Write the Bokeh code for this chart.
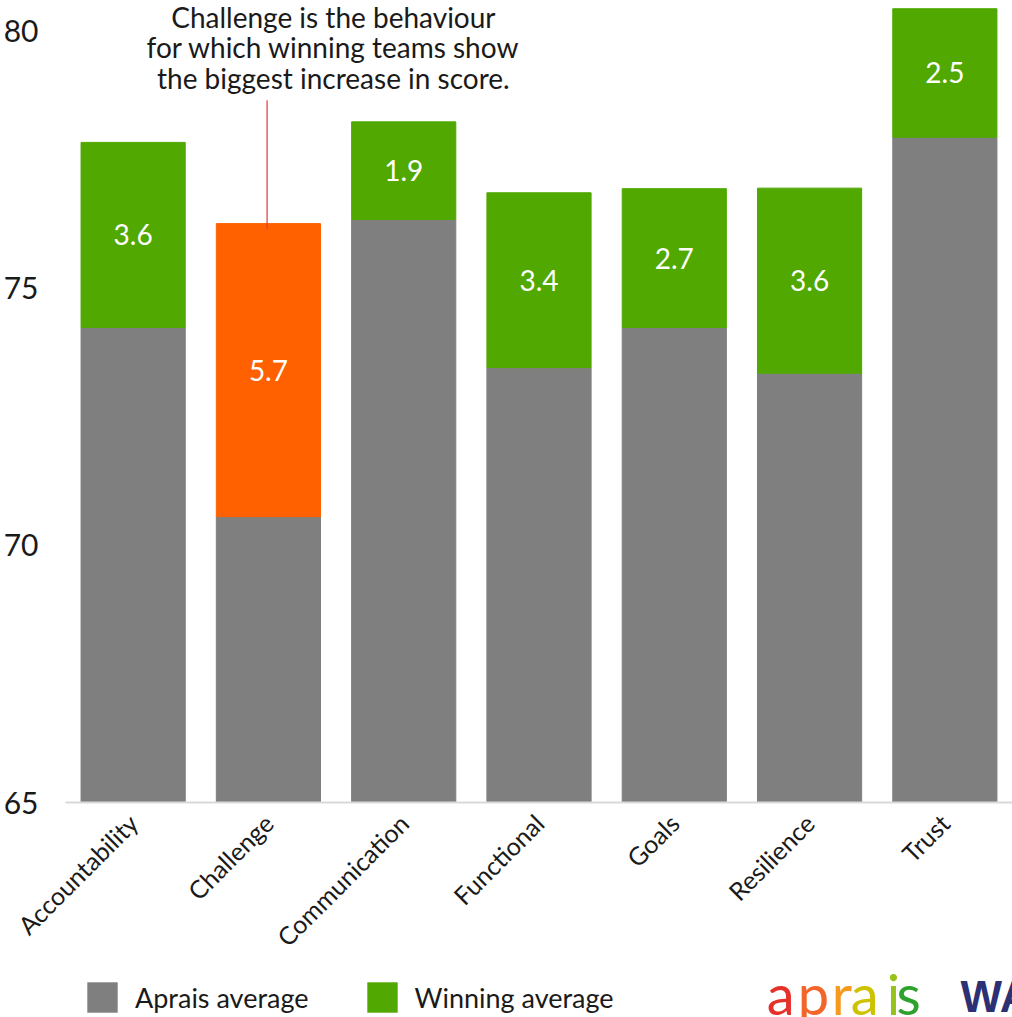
import math
from bokeh.plotting import figure
from bokeh.layouts import column
from bokeh.models import (FactorRange, Range1d, ColumnDataSource, Legend, LegendItem,
                          Label, FixedTicker)
from bokeh.core.properties import value
from bokeh.embed import file_html
from bokeh.resources import INLINE

# ---- data ----
categories = ["Accountability", "Challenge", "Communication", "Functional",
              "Goals", "Resilience", "Trust"]
aprais_average = [74.24, 70.56, 76.34, 73.46, 74.24, 73.35, 77.94]
increase = [3.6, 5.7, 1.9, 3.4, 2.7, 3.6, 2.5]
highlight = "Challenge"
y_ticks = [65, 70, 75, 80]
annotation_lines = ["Challenge is the behaviour",
                    "for which winning teams show",
                    "the biggest increase in score."]
series_names = ["Aprais average", "Winning average"]

GRAY = "#7f7f7f"
GREEN = "#50a800"
ORANGE = "#ff6100"
TEXT = "#1a1a1a"
FONT = "Lato"

winning = [a + d for a, d in zip(aprais_average, increase)]
mid = [(a + w) / 2 for a, w in zip(aprais_average, winning)]
colors = [ORANGE if c == highlight else GREEN for c in categories]
labels = [f"{d:.1f}" for d in increase]

src = ColumnDataSource(dict(cat=categories, apr=aprais_average, win=winning,
                            mid=mid, col=colors, lab=labels))

p = figure(x_range=FactorRange(*categories), y_range=Range1d(65, 80.6),
           width=1012, height=967, output_backend="svg", toolbar_location=None,
           min_border_left=64, min_border_right=0, min_border_top=0,
           min_border_bottom=165)
p.outline_line_color = None
p.grid.visible = False
p.background_fill_color = "white"
p.border_fill_color = "white"

r1 = p.vbar(x="cat", bottom=65, top="apr", width=0.77, color=GRAY, source=src)
r2 = p.vbar(x="cat", bottom="apr", top="win", width=0.77, color="col", source=src)

p.text(x="cat", y="mid", text="lab", source=src, text_color="white",
       text_font=value(FONT), text_font_size="28px", text_align="center",
       text_baseline="middle")

# axes
p.yaxis.ticker = FixedTicker(ticks=y_ticks)
p.yaxis.axis_line_color = None
p.yaxis.major_tick_line_color = None
p.yaxis.minor_tick_line_color = None
p.yaxis.major_label_text_font = FONT
p.yaxis.major_label_text_font_size = "30px"
p.yaxis.major_label_text_color = TEXT
p.yaxis.major_label_standoff = 21

p.xaxis.axis_line_color = "#d9d9d9"
p.xaxis.axis_line_width = 2
p.xaxis.major_tick_line_color = None
p.xaxis.minor_tick_line_color = None
p.xaxis.major_label_orientation = math.pi / 4
p.xaxis.major_label_text_font = FONT
p.xaxis.major_label_text_font_size = "25px"
p.xaxis.major_label_text_color = TEXT
p.xaxis.major_label_standoff = 10

# annotation
ann_y = [80.27, 79.69, 79.10]
for line, yy in zip(annotation_lines, ann_y):
    p.add_layout(Label(x=1.98, y=yy, text=line, text_align="center",
                       text_baseline="middle", text_font=FONT,
                       text_font_size="28px", text_color=TEXT))
hi = categories.index(highlight)
p.segment(x0=[hi + 0.49], x1=[hi + 0.49], y0=[78.66], y1=[winning[hi] - 0.1],
          line_color="#e03a3a", line_width=1.2)

# ---- bottom strip: legend and logos (frame aligned with main frame: x 64..1012) ----
p2 = figure(x_range=Range1d(64, 1012), y_range=Range1d(0, 50), width=1012, height=50,
            output_backend="svg", toolbar_location=None,
            x_axis_location=None, y_axis_location=None,
            min_border_left=64, min_border_right=0, min_border_top=0,
            min_border_bottom=0)
p2.grid.visible = False
p2.outline_line_color = None
p2.background_fill_color = "white"
p2.border_fill_color = "white"

# zero-size proxy glyphs (outside the visible range) that only feed the legend swatches
l1 = p2.vbar(x=[0], top=[0], bottom=[0], width=0, fill_color=GRAY, line_color=None)
l2 = p2.vbar(x=[0], top=[0], bottom=[0], width=0, fill_color=GREEN, line_color=None)
legend = Legend(items=[LegendItem(label=series_names[0], renderers=[l1]),
                       LegendItem(label=series_names[1], renderers=[l2])],
                orientation="horizontal", location=(18, 1),
                glyph_width=38, glyph_height=38, label_standoff=14, spacing=54,
                padding=0, margin=0, border_line_color=None,
                background_fill_alpha=0, label_text_font=FONT,
                label_text_font_size="27px", label_text_color=TEXT)
p2.add_layout(legend, "center")

logo_letters = ["a", "p", "r", "a", "i", "s"]
logo_x = [766, 797, 831, 850, 886, 896]
logo_colors = ["#e5312a", "#f2662a", "#f59a1c", "#cdc200", "#96c21c", "#2ea22d"]
for ch, lx, lc in zip(logo_letters, logo_x, logo_colors):
    p2.add_layout(Label(x=lx, y=24, text=ch, text_font=FONT, text_font_size="56px",
                        text_color=lc, text_baseline="alphabetic", text_align="left"))
p2.add_layout(Label(x=960, y=21, text="WA", text_font="Liberation Sans",
                    text_font_style="bold", text_font_size="44px",
                    text_color="#2b3173", text_baseline="alphabetic",
                    text_align="left"))

layout = column(p, p2, spacing=0)
open("out.html", "w").write(file_html(layout, INLINE))
